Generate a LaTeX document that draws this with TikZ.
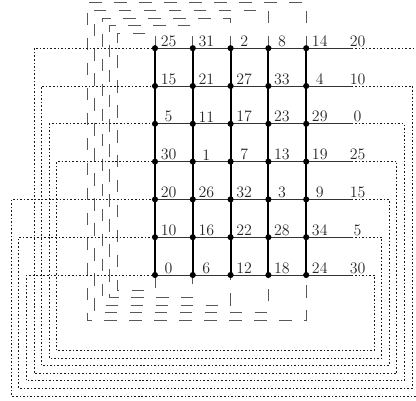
\documentclass[tikz,border=0pt]{standalone}
\pgfdeclarelayer{bg}
\pgfsetlayers{bg,main}
\begin{document}
\begin{tikzpicture}[
  vnode/.style={circle,fill=black,inner sep=0pt,minimum size=4.6pt},
  vline/.style={line width=1.5pt,black},
  hline/.style={line width=0.7pt,black!80},
  wrapv/.style={line width=0.65pt,black!65,dash pattern=on 9.4pt off 9.4pt},
  wraph/.style={line width=0.65pt,black!90,dash pattern=on 1.2pt off 1.5pt},
  lab/.style={anchor=south,inner sep=1pt,font=\large,text=black!85}
]
\useasboundingbox (-4.10,-3.333) rectangle (6.905,7.275);
% grid nodes
\foreach \x in {0,...,4}{
  \foreach \y in {0,...,6}{
    \node[vnode] (n-\x-\y) at (\x,\y) {};
  }
}
% phantom column ends
\foreach \y in {0,...,6}{
  \coordinate (p-\y) at (5,\y);
  \coordinate (e-\y) at (5.2,\y);
}
% labels
\foreach \x in {0,...,4}{
  \foreach \y in {0,...,6}{
    \pgfmathtruncatemacro\lbl{mod(6*\x+10*\y,35)}
    \node[lab] (l-\x-\y) at ([xshift=0.36cm]n-\x-\y.center) {\lbl};
  }
}
\foreach \y in {0,...,6}{
  \pgfmathtruncatemacro\lbl{mod(30+10*\y,35)}
  \node[lab] (l-5-\y) at ([xshift=0.36cm]p-\y) {\lbl};
}
\begin{pgfonlayer}{bg}
% vertical wrap-around (dashed)
\foreach \j in {0,...,4}{
  \pgfmathsetmacro\wt{0.4+0.2*\j}
  \pgfmathsetmacro\wl{-1-0.2*\j}
  \pgfmathsetmacro\wb{-0.4-0.2*\j}
  \draw[wrapv] (n-\j-6.center) -- ++(0,\wt) -| (\wl,\wb) -| (n-\j-0.center);
}
% horizontal wrap-around (dotted)
\foreach \y in {0,...,6}{
  \pgfmathtruncatemacro\tg{mod(\y+3,7)}
  \pgfmathsetmacro\wr{5.8+0.2*\y}
  \pgfmathsetmacro\wb{-2-0.2*\y}
  \pgfmathsetmacro\wl{-2.6-0.2*\y}
  \draw[wraph] (e-\y) -| (\wr,\wb) -| (\wl,\tg) -- (n-0-\tg.center);
}
% horizontal solid lines
\foreach \y in {0,...,6}{
  \draw[hline] (n-0-\y.center) -- (e-\y);
}
% vertical solid lines
\foreach \x in {0,...,4}{
  \draw[vline] (n-\x-0.center) -- (n-\x-6.center);
}
\end{pgfonlayer}
\end{tikzpicture}
\end{document}
